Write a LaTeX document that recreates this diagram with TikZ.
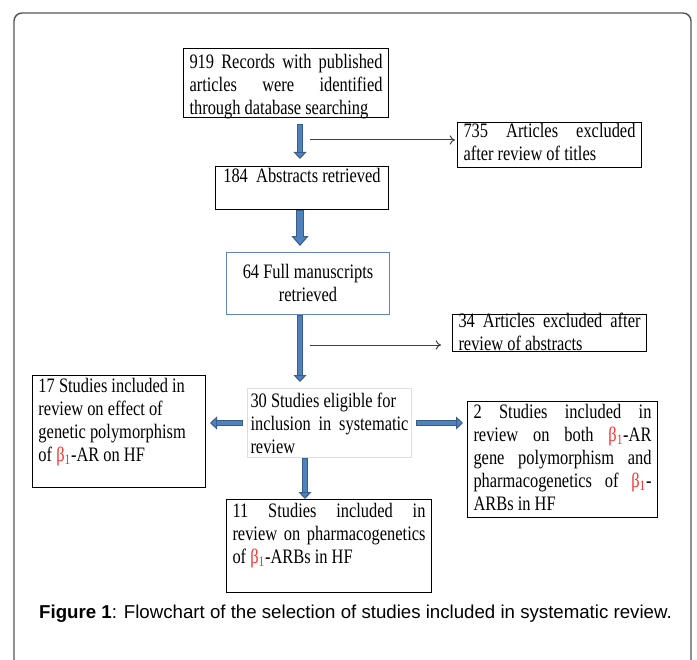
\documentclass[tikz,border=0pt]{standalone}
\usepackage{fontspec}
\usetikzlibrary{arrows.meta}
\newfontfamily\tnr[FakeStretch=0.8]{Liberation Serif}
\newfontfamily\arial{Liberation Sans}
\definecolor{fillblue}{RGB}{79,129,189}
\definecolor{edgeblue}{RGB}{56,93,138}
\definecolor{boxblue}{RGB}{95,135,185}
\definecolor{paleedge}{RGB}{222,222,222}
\definecolor{betared}{RGB}{250,45,45}
\definecolor{framegray}{RGB}{85,85,85}
\newcommand{\betaone}{\textcolor{betared}{β\textsubscript{1}}}
\tikzset{
	box/.style={draw, line width=0.75pt, anchor=north west, inner xsep=4.5pt, inner ysep=0pt, align=justify, font={\tnr\fontsize{15.4pt}{17.25pt}\selectfont}},
	fat/.style 2 args={draw=edgeblue, line width=4.5pt, shorten <=#1, shorten >=#2,
		-{Triangle[length=5.25pt, width=9.75pt, fill=fillblue, color=edgeblue, line width=0.75pt]},
		postaction={draw=fillblue, line width=3pt, arrows=-, shorten <=#1+0.75pt, shorten >=#2+4.9pt}},
	fatbig/.style 2 args={draw=edgeblue, line width=6pt, shorten <=#1, shorten >=#2,
		-{Triangle[length=7.5pt, width=12.75pt, fill=fillblue, color=edgeblue, line width=0.75pt]},
		postaction={draw=fillblue, line width=4.5pt, arrows=-, shorten <=#1+0.75pt, shorten >=#2+7.1pt}},
	thinarrow/.style={draw=black!75, line width=0.75pt, -{To[length=4pt, width=7pt]}},
}

\begin{document}
\begin{tikzpicture}[x=0.75pt,y=0.75pt,yscale=-1,xscale=1]
	\useasboundingbox (0,0) rectangle (697,660);
	\begin{scope}
		\clip (0,0) rectangle (697,660);
		\draw [framegray, line width=1.1pt, rounded corners=6pt] (14,13) rectangle (691,700);
	\end{scope}
	% boxes
	\node [box, text width=144.75pt, text height=15pt, text depth=36.75pt] (n919) at (183,48) {919 Records with published\linebreak articles were identified\linebreak through database searching};
	\node [box, text width=129pt, text height=11.25pt, text depth=22.5pt] (n735) at (457,122) {735 Articles excluded\linebreak after review of titles};
	\node [box, align=flush center, text width=120.75pt, text height=12pt, text depth=20.25pt] (n184) at (215,166) {184\ \ Abstracts retrieved};
	\node [box, draw=boxblue, align=flush center, text width=113.25pt, text height=19.5pt, text depth=27pt] (n64) at (226,252) {64 Full manuscripts\\retrieved};
	\node [box, text width=136.5pt, text height=9.75pt, text depth=18pt] (n34) at (452,314) {34 Articles excluded after\linebreak review of abstracts};
	\node [box, draw=paleedge, inner xsep=2.25pt, text width=118.5pt, text height=14.25pt, text depth=37.5pt] (n30) at (247,388) {30 Studies eligible for\\inclusion in systematic\linebreak review};
	\node [box, align=flush left, text width=120.75pt, text height=12.75pt, text depth=71.25pt] (n17) at (32,375) {17 Studies included in\\review on effect of\\genetic polymorphism\\of \betaone-AR on HF};
	\node [box, text width=133.5pt, text height=12.75pt, text depth=74.25pt] (n2) at (467,401) {2 Studies included in\linebreak review on both \betaone-AR\linebreak gene polymorphism and\linebreak pharmacogenetics of \betaone-\linebreak ARBs in HF};
	\node [box, text width=144.75pt, text height=13.5pt, text depth=56.25pt] (n11) at (226,499) {11 Studies included in\linebreak review on pharmacogenetics\linebreak of \betaone-ARBs in HF};
	\node [font={\arial\fontsize{14pt}{16pt}\selectfont}, inner sep=0pt] (cap) at (355.5,614) {\textbf{Figure 1}: Flowchart of the selection of studies included in systematic review.};
	% arrows
	\coordinate (spine) at (300,0);
	\coordinate (spine2) at (305,0);
	\draw [fat={4.5pt}{5.25pt}] (n919.south -| spine) -- (n184.north -| spine);
	\draw [fatbig={0pt}{4.5pt}] (n184.south -| spine) -- (n64.north -| spine);
	\draw [fat={0pt}{4.5pt}] (n64.south -| spine) -- (n30.north -| spine);
	\draw [fat={3pt}{3pt}] (n30.west) -- (n17.east |- n30.west);
	\draw [fat={3pt}{3pt}] (n30.east) -- (n2.west |- n30.east);
	\draw [fat={0pt}{0pt}] (n30.south -| spine2) -- (n11.north -| spine2);
	\coordinate (t1) at (310,140);
	\coordinate (t2) at (310,345);
	\draw [thinarrow, shorten >=1.5pt] (t1) -- (t1 -| n735.west);
	\draw [thinarrow, shorten >=8.25pt] (t2) -- (t2 -| n34.west);
\end{tikzpicture}
\end{document}
